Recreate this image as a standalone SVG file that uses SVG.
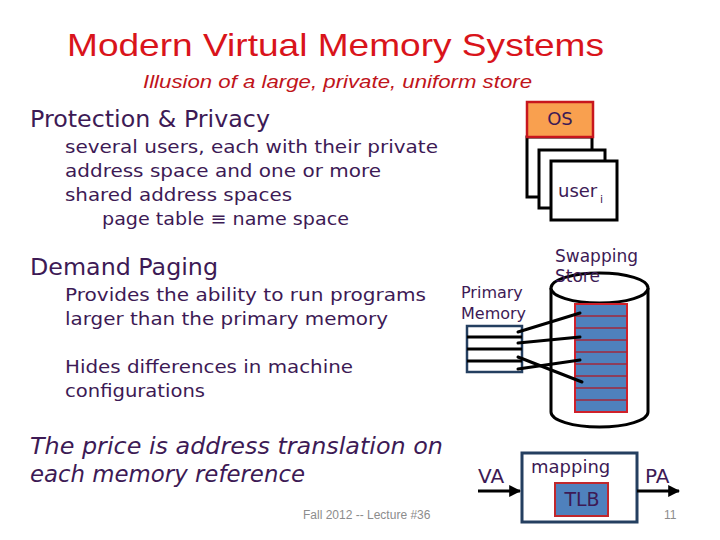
<svg xmlns="http://www.w3.org/2000/svg" width="720" height="540" viewBox="0 0 720 540">
<defs>
<style>
.body{font-family:"DejaVu Sans",Verdana,sans-serif;fill:#3d1a55}
.calibri{font-family:"Liberation Sans",Arial,sans-serif}
.foot{font-family:"Liberation Sans",Arial,sans-serif;font-size:12px;fill:#8c8c8c}
.blk{fill:#fff;stroke:#000;stroke-width:3}
.strip{fill:#4f81bd;stroke:#c0282d;stroke-width:1.5}
.conn{stroke:#000;stroke-width:3;stroke-linecap:round;fill:none}
</style>
<marker id="arr" viewBox="0 0 10 10" refX="9" refY="5" markerWidth="4" markerHeight="4" orient="auto">
<path d="M0,0 L10,5 L0,10 z" fill="#000"/>
</marker>
</defs>
<rect width="720" height="540" fill="#fff"/>

<g id="title">
<text class="calibri" x="67" y="56" font-size="32" fill="#d9141b" textLength="537" lengthAdjust="spacingAndGlyphs">Modern Virtual Memory Systems</text>
<text class="calibri" x="143" y="88" font-size="18" font-style="italic" fill="#c0141b" textLength="389" lengthAdjust="spacingAndGlyphs">Illusion of a large, private, uniform store</text>
</g>

<g id="text-left">
<text class="body" x="30" y="127" font-size="23" textLength="240" lengthAdjust="spacingAndGlyphs">Protection &amp; Privacy</text>
<text class="body" x="65" y="153" font-size="18" textLength="373" lengthAdjust="spacingAndGlyphs">several users, each with their private</text>
<text class="body" x="65" y="177" font-size="18" textLength="316" lengthAdjust="spacingAndGlyphs">address space and one or more</text>
<text class="body" x="65" y="201" font-size="18" textLength="227" lengthAdjust="spacingAndGlyphs">shared address spaces</text>
<text class="body" x="102" y="225" font-size="18" textLength="247" lengthAdjust="spacingAndGlyphs">page table ≡ name space</text>
<text class="body" x="30" y="275" font-size="23" textLength="188" lengthAdjust="spacingAndGlyphs">Demand Paging</text>
<text class="body" x="65" y="301" font-size="18" textLength="361" lengthAdjust="spacingAndGlyphs">Provides the ability to run programs</text>
<text class="body" x="65" y="325" font-size="18" textLength="323" lengthAdjust="spacingAndGlyphs">larger than the primary memory</text>
<text class="body" x="65" y="373" font-size="18" textLength="288" lengthAdjust="spacingAndGlyphs">Hides differences in machine</text>
<text class="body" x="65" y="397" font-size="18" textLength="140" lengthAdjust="spacingAndGlyphs">configurations</text>
<text class="body" x="30" y="454" font-size="23" font-style="italic" textLength="413" lengthAdjust="spacingAndGlyphs">The price is address translation on</text>
<text class="body" x="30" y="482" font-size="23" font-style="italic" textLength="275" lengthAdjust="spacingAndGlyphs">each memory reference</text>
</g>

<g id="footer">
<text class="foot" x="303" y="519">Fall 2012 -- Lecture #36</text>
<text class="foot" x="664" y="519">11</text>
</g>

<g id="address-spaces">
<rect class="blk" x="527" y="137" width="65" height="60"/>
<rect class="blk" x="539" y="150" width="66" height="58"/>
<rect class="blk" x="551" y="161" width="66" height="59"/>
<text class="body" x="558" y="197" font-size="18">user</text>
<text class="body" x="600" y="203" font-size="11">i</text>
</g>

<g id="os">
<rect x="527" y="102" width="66" height="35" fill="#f9a04f" stroke="#c8161d" stroke-width="2.5"/>
<text class="body" x="560" y="125" font-size="18" text-anchor="middle" fill="#5a1650">OS</text>
</g>

<g id="swapping-store">
<path d="M551,288 V412 A48.5,15 0 0 0 648,412 V288" fill="#fff" stroke="#000" stroke-width="3"/>
<ellipse cx="599.5" cy="288" rx="48.5" ry="15" fill="#fff" stroke="#000" stroke-width="3"/>
<rect x="575" y="304" width="52" height="108" fill="#4f81bd" stroke="#d0202a" stroke-width="2"/>
<g stroke="#a0283c" stroke-width="1.5">
<line x1="575" y1="316" x2="627" y2="316"/>
<line x1="575" y1="328" x2="627" y2="328"/>
<line x1="575" y1="340" x2="627" y2="340"/>
<line x1="575" y1="352" x2="627" y2="352"/>
<line x1="575" y1="364" x2="627" y2="364"/>
<line x1="575" y1="376" x2="627" y2="376"/>
<line x1="575" y1="388" x2="627" y2="388"/>
<line x1="575" y1="400" x2="627" y2="400"/>
</g>
<text class="body" x="555" y="262" font-size="17">Swapping</text>
<text class="body" x="555" y="282" font-size="17">Store</text>
</g>

<g id="primary-memory">
<text class="body" x="461" y="298" font-size="16">Primary</text>
<text class="body" x="461" y="319" font-size="16">Memory</text>
<rect x="467" y="326" width="55" height="46" fill="#fff" stroke="#243f60" stroke-width="2.5"/>
<g stroke="#000" stroke-width="3">
<line x1="467" y1="337" x2="522" y2="337"/>
<line x1="467" y1="349" x2="522" y2="349"/>
<line x1="467" y1="361" x2="522" y2="361"/>
</g>
</g>

<g id="mapping">
<rect x="522" y="453" width="115" height="69" fill="#fff" stroke="#243f60" stroke-width="3"/>
<text class="body" x="531" y="473" font-size="18">mapping</text>
<rect x="555" y="483" width="53" height="33" fill="#4f81bd" stroke="#c0282d" stroke-width="2"/>
<text class="body" x="582" y="506" font-size="19" text-anchor="middle">TLB</text>
<text class="body" x="478" y="483" font-size="20">VA</text>
<text class="body" x="645" y="483" font-size="20">PA</text>
</g>

<g id="connectors">
<line class="conn" x1="518" y1="332" x2="580" y2="313"/>
<line class="conn" x1="518" y1="343" x2="580" y2="337"/>
<line class="conn" x1="518" y1="369" x2="580" y2="360"/>
<line class="conn" x1="518" y1="357" x2="582" y2="382"/>
<line stroke="#000" stroke-width="3" x1="478" y1="491" x2="520" y2="491" marker-end="url(#arr)"/>
<line stroke="#000" stroke-width="3" x1="637" y1="491" x2="679" y2="491" marker-end="url(#arr)"/>
</g>
</svg>
